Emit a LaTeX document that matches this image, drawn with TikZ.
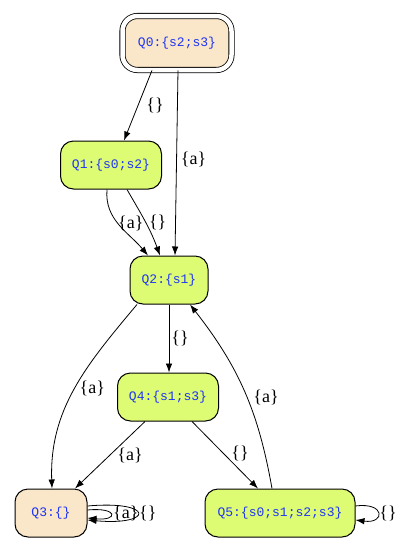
\documentclass[tikz,border=0pt]{standalone}
\usepackage{fontspec}
\setmainfont{Liberation Serif}
\setmonofont{Liberation Mono}
\usepackage{xcolor}
\usetikzlibrary{arrows.meta, positioning}

\definecolor{statewheat}{HTML}{FAE6C8}
\definecolor{stategreen}{HTML}{DDFB73}
\definecolor{stateblue}{HTML}{1F35F5}

\begin{document}
\begin{tikzpicture}[
    x=1pt, y=-1pt,
    state/.style={draw, line width=1pt, rounded corners=13pt, minimum height=48pt,
        inner sep=0pt, font=\fontsize{13}{15}\selectfont\ttfamily, text=stateblue},
    arr/.style={-{Latex[length=9pt,width=6.5pt]}, line width=0.8pt},
    lbl/.style={font=\fontsize{18}{20}\selectfont, inner sep=1pt}
]
    \useasboundingbox (0,0) rectangle (405,547);

    % States
    \node[state, fill=statewheat, double, double distance=4.5pt, line width=0.8pt,
        rounded corners=15pt, minimum width=109pt, minimum height=54pt] (q0) at (177,43) {Q0:\{s2;s3\}};
    \node[state, fill=stategreen, minimum width=101pt] (q1) at (111,165) {Q1:\{s0;s2\}};
    \node[state, fill=stategreen, minimum width=78pt] (q2) at (169,280) {Q2:\{s1\}};
    \node[state, fill=stategreen, minimum width=101pt] (q4) at (168,397) {Q4:\{s1;s3\}};
    \node[state, fill=statewheat, minimum width=72pt] (q3) at (51,513) {Q3:\{\}};
    \node[state, fill=stategreen, minimum width=150pt] (q5) at (280,513) {Q5:\{s0;s1;s2;s3\}};

    % Transitions
    \draw[arr] ([xshift=-25pt]q0.south) -- node[lbl, midway, right, xshift=7pt] {\{\}} ([xshift=13pt]q1.north);
    \draw[arr] ([xshift=1pt]q0.south) -- node[lbl, pos=0.48, right, xshift=3pt] {\{a\}} ([xshift=6pt]q2.north);
    \draw[arr] ([xshift=-4pt]q1.south) to[out=-95, in=130]
        node[lbl, pos=0.45, right, xshift=0pt, yshift=-1pt] {\{a\}} ([xshift=-21pt]q2.north);
    \draw[arr] ([xshift=16pt]q1.south) to[out=-60, in=110]
        node[lbl, pos=0.45, right, xshift=4pt, yshift=-4pt] {\{\}} ([xshift=-9pt]q2.north);
    \draw[arr] (q2.south) -- node[lbl, midway, right, xshift=1pt] {\{\}} ([xshift=1pt]q4.north);
    \draw[arr] ([xshift=-32pt]q2.south) to[out=-130, in=92]
        node[lbl, pos=0.48, right, xshift=2pt, yshift=-2pt] {\{a\}} ([xshift=1pt]q3.north);
    \draw[arr] ([xshift=-23pt]q4.south) -- node[lbl, midway, right, xshift=6pt, yshift=0pt] {\{a\}} ([xshift=24pt]q3.north);
    \draw[arr] ([xshift=24pt]q4.south) -- node[lbl, pos=0.5, right, xshift=5pt, yshift=2pt] {\{\}} ([xshift=-22pt]q5.north);
    \draw[arr] ([xshift=-8pt]q5.north) to[out=100, in=-52]
        node[lbl, pos=0.5, right, xshift=8pt, yshift=-7pt] {\{a\}} ([xshift=21pt]q2.south);

    % Loops
    \draw[arr] ([yshift=3pt]q3.east) .. controls +(31,-3) and +(31,3) ..
        node[lbl, pos=0.5, right, inner sep=0pt, xshift=2pt, yshift=1pt] {\{a\}} ([yshift=-5pt]q3.east);
    \draw[arr] ([yshift=7pt]q3.east) .. controls +(67,-6) and +(67,6) .. node[lbl, pos=0.5, right, inner sep=1pt] {\{\}} ([yshift=-7pt]q3.east);
    \draw[arr] ([yshift=7pt]q5.east) .. controls +(30,-4) and +(30,4) .. node[lbl, pos=0.5, right, inner sep=1pt] {\{\}} ([yshift=-7pt]q5.east);
\end{tikzpicture}
\end{document}
